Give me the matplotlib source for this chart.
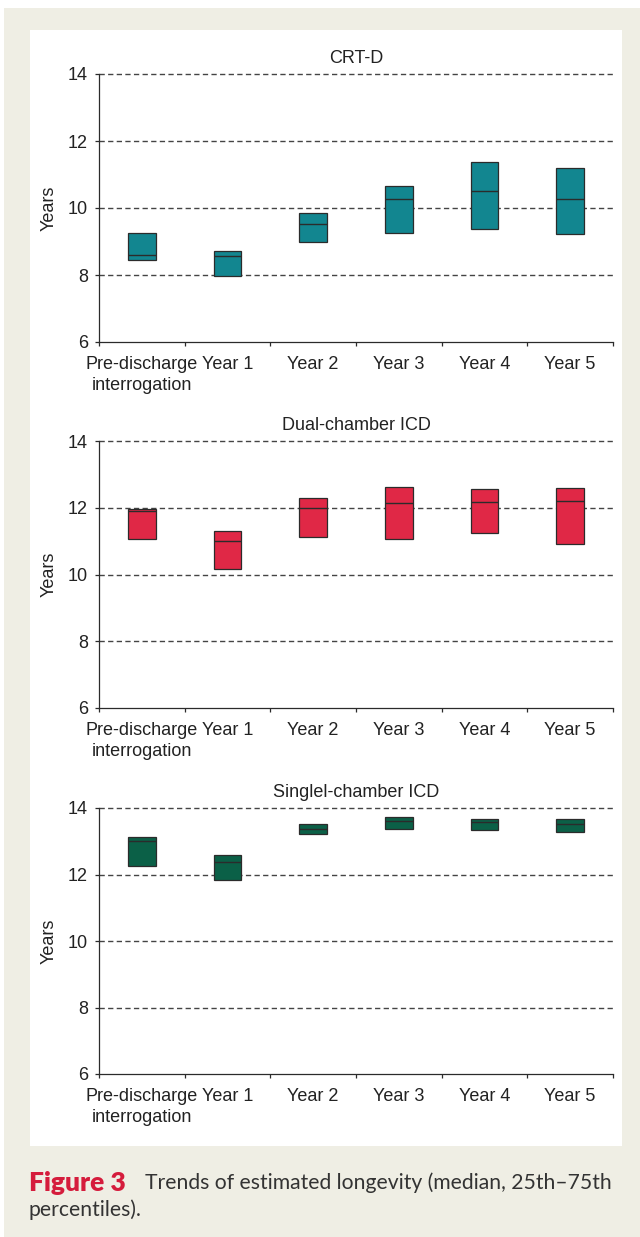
import matplotlib
matplotlib.use('Agg')
import matplotlib.pyplot as plt
from matplotlib.patches import Rectangle
import numpy as np

categories = ['Pre-discharge\ninterrogation', 'Year 1', 'Year 2', 'Year 3', 'Year 4', 'Year 5']

# 25th percentile, median, 75th percentile (years)
crtd_q25 = [8.45, 7.98, 8.98, 9.25, 9.37, 9.22]
crtd_med = [8.61, 8.57, 9.53, 10.28, 10.52, 10.27]
crtd_q75 = [9.24, 8.73, 9.84, 10.66, 11.38, 11.19]

dual_q25 = [11.07, 10.16, 11.11, 11.07, 11.23, 10.91]
dual_med = [11.91, 10.99, 11.98, 12.14, 12.18, 12.19]
dual_q75 = [11.95, 11.29, 12.29, 12.61, 12.57, 12.60]

single_q25 = [12.27, 11.82, 13.21, 13.38, 13.34, 13.29]
single_med = [13.01, 12.38, 13.38, 13.61, 13.58, 13.53]
single_q75 = [13.13, 12.58, 13.53, 13.73, 13.68, 13.68]

panels = [
    ('CRT-D', crtd_q25, crtd_med, crtd_q75, '#128690'),
    ('Dual-chamber ICD', dual_q25, dual_med, dual_q75, '#e02846'),
    ('Singlel-chamber ICD', single_q25, single_med, single_q75, '#0b6047'),
]

W, H = 640, 1237
fig = plt.figure(figsize=(W / 100, H / 100), dpi=100, facecolor='white')
plt.rcParams['font.family'] = ['Liberation Sans', 'DejaVu Sans']

# page background: beige frame with white panel
fig.patches.append(Rectangle((4 / W, 0), 636 / W, (H - 8) / H, transform=fig.transFigure,
                             facecolor='#efeee4', edgecolor='none', zorder=-2))
fig.patches.append(Rectangle((30 / W, 1 - 1146 / H), 592 / W, 1116 / H, transform=fig.transFigure,
                             facecolor='white', edgecolor='none', zorder=-1))

# axes placement in pixel coords (top, bottom)
ax_rows = [(74, 342), (441, 708), (808, 1074)]
left_px, right_px = 99, 613

ink = '#2b2b2b'
txt = '#222222'
fs = 13
x = np.arange(len(categories))
bw = 0.32

for (title, q25, med, q75, color), (top, bot) in zip(panels, ax_rows):
    ax = fig.add_axes([left_px / W, 1 - bot / H, (right_px - left_px) / W, (bot - top) / H])
    ax.set_zorder(2)
    ax.set_facecolor('none')
    q25 = np.array(q25)
    q75 = np.array(q75)
    ax.bar(x, q75 - q25, bottom=q25, width=bw, color=color, edgecolor=ink, linewidth=0.9, zorder=3)
    ax.hlines(med, x - bw / 2, x + bw / 2, colors=ink, linewidth=1.0, zorder=4)

    ax.set_xlim(-0.5, len(categories) - 0.5)
    ax.set_ylim(6, 14)
    ax.set_yticks([6, 8, 10, 12, 14])
    for yv in [8, 10, 12, 14]:
        ax.axhline(yv, color='#444444', linewidth=1.0, linestyle=(0, (3.8, 2.4)), zorder=1, clip_on=False)

    ax.set_xticks(x)
    ax.set_xticklabels(categories, fontsize=fs, color=txt, linespacing=1.35)
    ax.set_xticks(np.arange(-0.5, len(categories)), minor=True)
    ax.tick_params(axis='x', which='major', length=0, pad=10)
    ax.tick_params(axis='x', which='minor', length=3, width=0.9, color=ink)
    ax.tick_params(axis='y', length=3, width=0.9, color=ink, pad=5, labelsize=fs, labelcolor=txt)

    for s in ['top', 'right']:
        ax.spines[s].set_visible(False)
    for s in ['left', 'bottom']:
        ax.spines[s].set_color(ink)
        ax.spines[s].set_linewidth(0.9)

    ax.set_ylabel('Years', fontsize=fs, color=txt, labelpad=7)
    ax.set_title(title, fontsize=fs, color=txt, pad=8)

# caption
cap_font = ['Lato', 'DejaVu Sans']
fig.text(29 / W, 1 - 1183 / H, 'Figure 3', fontsize=19, fontweight='heavy', color='#d51c3c',
         family=cap_font, va='center', ha='left')
fig.text(612 / W, 1 - 1183 / H, 'Trends of estimated longevity (median, 25th\u201375th',
         fontsize=15.2, color='#333333', family=cap_font, va='center', ha='right')
fig.text(29 / W, 1 - 1210 / H, 'percentiles).', fontsize=15.2, color='#333333',
         family=cap_font, va='center', ha='left')

fig.savefig('out.png', dpi=100, facecolor=fig.get_facecolor())
